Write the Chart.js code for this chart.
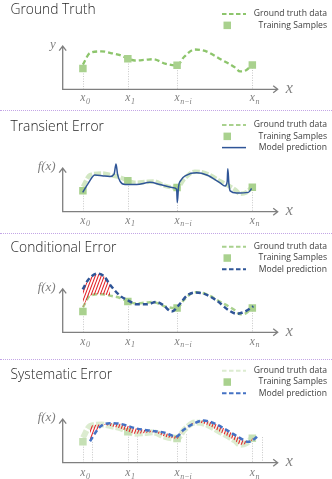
<!DOCTYPE html>
<html>
<head>
<meta charset="utf-8">
<title>Error types</title>
<script src="https://cdn.jsdelivr.net/npm/chart.js@4.4.1/dist/chart.umd.min.js"></script>
<style>
  html, body { margin: 0; padding: 0; background: #ffffff; }
  body { position: relative; width: 332px; height: 479px; overflow: hidden; }
  canvas { position: absolute; left: 0; }
  .sep { position: absolute; left: 0; width: 332px; height: 0; border-top: 1px dotted #c3a5e6; }
</style>
</head>
<body>
<canvas id="truthChart" width="332" height="111" style="top:0"></canvas>
<canvas id="transientChart" width="332" height="123" style="top:111px"></canvas>
<canvas id="conditionalChart" width="332" height="126" style="top:234px"></canvas>
<canvas id="systematicChart" width="332" height="119" style="top:360px"></canvas>
<div class="sep" style="top:110px"></div>
<div class="sep" style="top:233px"></div>
<div class="sep" style="top:359px"></div>
<script>
// Training samples (x axis runs 0..100)
const sampleX = [9.4, 30.3, 53.2, 88.2];
const sampleY = [22.1, 32.6, 25.6, 25.8];
const sampleBase = 'x';
const sampleSubs = ['0', '1', 'n\u2212i', 'n'];

// Ground truth curve
const truthX = [9.4, 12.7, 18.1, 22.9, 26.7, 30.3, 33.6, 38.3, 42.1, 47.6, 53.2, 56.4, 61.5, 66.2, 73.2, 80.1, 82.5, 85.3, 88.2];
const truthY = [26.3, 38.6, 40.3, 38.3, 36.3, 32.8, 30.6, 31.3, 32.0, 27.3, 25.3, 34.3, 42.3, 40.8, 32.3, 23.3, 19.0, 20.3, 26.3];

// Transient error: model follows truth with spikes
const transientX = [9.3, 11.8, 15.0, 18.9, 22.0, 23.9, 24.8, 25.5, 26.7, 29.0, 34.4, 40.6, 45.3, 51.4, 53.0, 53.3, 53.9, 54.6, 57.7, 62.3, 67.0, 73.2, 75.5, 76.5, 76.8, 77.3, 77.9, 80.9, 86.3, 87.9];
const transientY = [20.4, 29.7, 38.7, 37.7, 37.2, 39.7, 50.4, 39.7, 32.0, 28.7, 28.7, 31.0, 28.7, 25.4, 23.7, 9.7, 26.7, 32.0, 38.7, 41.0, 38.7, 30.4, 27.0, 31.7, 45.4, 29.7, 22.0, 19.7, 20.4, 24.4];

// Conditional error: model overshoots near x0
const conditionalX = [9.3, 11.8, 16.1, 19.2, 22.0, 26.7, 30.5, 34.4, 39.1, 43.7, 46.8, 50.7, 54.6, 57.7, 61.6, 65.4, 71.6, 77.0, 80.9, 84.8, 88.7];
const conditionalY = [45.3, 55.3, 62.0, 59.3, 50.3, 38.6, 33.6, 29.6, 29.6, 32.0, 28.6, 22.0, 30.3, 38.6, 42.0, 41.0, 33.6, 23.6, 19.6, 22.0, 27.6];
const conditionalErrX = conditionalX.slice(0, 5);
const conditionalErrY = conditionalY.slice(0, 5);

// Systematic error: model shifted along x
const systematicX = [12.7, 17.3, 22.0, 26.7, 34.4, 42.1, 46.8, 53.0, 56.1, 60.7, 65.4, 70.0, 76.3, 82.5, 86.3, 89.4, 91.3];
const systematicY = [22.7, 37.7, 41.7, 41.0, 36.0, 33.4, 32.0, 27.7, 34.4, 41.0, 44.4, 42.0, 34.4, 26.0, 22.0, 25.4, 30.0];
const shiftedX = [13.6, 34.7, 57.3, 92.6];
const shiftedY = [22, 33, 30, 27];

const axisLength = 100;
const axisHeight = 46;

const colors = {
    truth: '#8dc56c',
    truthLight: '#a9d18e',
    truthBand: '#d2e7c3',
    truthPale: '#dcecd0',
    sample: '#a9d18e',
    samplePale: '#c5e0b4',
    navy: '#2f5597',
    blue: '#4472c4',
    axis: '#7f7f7f',
    drop: '#c8c8c8',
    hatch: '#e3262b'
};

function hatchPattern() {
    const c = document.createElement('canvas');
    c.width = 3; c.height = 8;
    const g = c.getContext('2d');
    g.strokeStyle = colors.hatch;
    g.lineWidth = 1.1;
    g.beginPath();
    [-3, 0, 3].forEach(dx => { g.moveTo(dx, 8); g.lineTo(dx + 3, 0); });
    g.stroke();
    return g.createPattern(c, 'repeat');
}

function points(xs, ys) {
    return xs.map((x, i) => ({ x, y: ys[i] }));
}

function curve(xs, ys, style) {
    return Object.assign({
        data: points(xs, ys),
        pointRadius: 0,
        fill: false,
        cubicInterpolationMode: 'monotone',
        clip: 10
    }, style);
}

function samples(color) {
    return {
        data: points(sampleX, sampleY),
        showLine: false,
        pointStyle: 'rect',
        pointRadius: 5.3,
        pointBorderWidth: 0,
        pointBackgroundColor: color,
        borderColor: color,
        backgroundColor: color,
        fill: false,
        order: 2,
        clip: 10
    };
}

function drawSub(ctx, base, sub, cx, cy) {
    ctx.font = 'italic 11.5px "Liberation Serif"';
    const bw = ctx.measureText(base).width;
    const left = cx - bw / 2;
    ctx.textAlign = 'left';
    ctx.textBaseline = 'alphabetic';
    ctx.fillText(base, left, cy + 3);
    ctx.font = 'italic 8px "Liberation Serif"';
    ctx.fillText(sub, left + bw + 0.5, cy + 5.5);
}

const decorPlugin = {
    id: 'decor',
    beforeDatasetsDraw(chart, args, o) {
        const ctx = chart.ctx, xs = chart.scales.x, ys = chart.scales.y;
        const ox = xs.getPixelForValue(0), oy = ys.getPixelForValue(0);
        const ex = xs.getPixelForValue(axisLength), ty = ys.getPixelForValue(axisHeight);
        ctx.save();
        ctx.strokeStyle = colors.drop;
        ctx.lineWidth = 1;
        ctx.setLineDash([1, 1.5]);
        const drops = points(sampleX, sampleY).concat(o.extraDrops || []);
        drops.forEach(p => {
            const px = Math.round(xs.getPixelForValue(p.x)) + 0.5;
            ctx.beginPath();
            ctx.moveTo(px, ys.getPixelForValue(p.y));
            ctx.lineTo(px, oy);
            ctx.stroke();
        });
        ctx.setLineDash([]);
        ctx.strokeStyle = colors.axis;
        ctx.lineWidth = 1.3;
        ctx.beginPath();
        ctx.moveTo(ox, ty); ctx.lineTo(ox, oy); ctx.lineTo(ex, oy);
        ctx.moveTo(ox - 3.5, ty + 4.5); ctx.lineTo(ox, ty); ctx.lineTo(ox + 3.5, ty + 4.5);
        ctx.moveTo(ex - 4.5, oy - 3.5); ctx.lineTo(ex, oy); ctx.lineTo(ex - 4.5, oy + 3.5);
        ctx.stroke();
        ctx.restore();
    },
    afterDraw(chart, args, o) {
        const ctx = chart.ctx, xs = chart.scales.x, ys = chart.scales.y;
        const ox = xs.getPixelForValue(0), oy = ys.getPixelForValue(0);
        const ex = xs.getPixelForValue(axisLength), ty = ys.getPixelForValue(axisHeight);
        ctx.save();

        // title
        ctx.fillStyle = '#262626';
        ctx.font = '300 13.8px "Open Sans"';
        ctx.textAlign = 'left';
        ctx.textBaseline = 'alphabetic';
        ctx.fillText(o.title, 10.5, o.titleY);

        // legend
        o.legend.forEach((item, i) => {
            const y = o.legendY + i * 11.3;
            if (item.kind === 'square') {
                ctx.fillStyle = item.color;
                ctx.fillRect(223.5, y - 3.7, 7.5, 7.5);
            } else {
                ctx.strokeStyle = item.color;
                ctx.lineWidth = item.width;
                ctx.setLineDash(item.kind === 'dash' ? [4.5, 2.5] : []);
                ctx.beginPath();
                ctx.moveTo(222, y); ctx.lineTo(246, y);
                ctx.stroke();
                ctx.setLineDash([]);
            }
            ctx.fillStyle = '#404040';
            ctx.font = '8.6px "Open Sans"';
            ctx.textAlign = 'right';
            ctx.textBaseline = 'middle';
            ctx.fillText(item.text, 327, y);
        });

        // axis names
        ctx.fillStyle = colors.axis;
        ctx.font = 'italic 13px "Liberation Serif"';
        ctx.textAlign = 'right';
        ctx.textBaseline = 'middle';
        ctx.fillText(o.yName, ox - 7, ty - 1.5);
        ctx.font = 'italic 16px "Liberation Serif"';
        ctx.textAlign = 'left';
        ctx.fillText('x', ex + 8, oy - 1);

        // sample tick labels
        sampleX.forEach((x, i) => {
            drawSub(ctx, sampleBase, sampleSubs[i], xs.getPixelForValue(x), oy + o.tickGap);
        });
        ctx.restore();
    }
};

function buildPanel(canvasId, datasets, decor, axisY) {
    const canvas = document.getElementById(canvasId);
    return new Chart(canvas, {
        type: 'line',
        data: { datasets },
        options: {
            responsive: false,
            animation: false,
            events: [],
            layout: { padding: { left: 62.7, right: 54.3, top: 0, bottom: canvas.height - axisY } },
            scales: {
                x: { type: 'linear', display: false, min: 0, max: axisLength },
                y: { type: 'linear', display: false, min: 0, max: axisY }
            },
            plugins: {
                legend: { display: false },
                tooltip: { enabled: false },
                decor
            }
        },
        plugins: [decorPlugin]
    });
}

const pattern = hatchPattern();

buildPanel('truthChart', [
    curve(truthX, truthY, { borderColor: colors.truth, borderWidth: 2.3, borderDash: [5, 3], order: 3 }),
    samples(colors.sample)
], {
    title: 'Ground Truth', titleY: 13.5, yName: 'y', tickGap: 9,
    legendY: 14,
    legend: [
        { kind: 'dash', color: colors.truth, width: 2, text: 'Ground truth data' },
        { kind: 'square', color: colors.sample, text: 'Training Samples' }
    ]
}, 89.3);

buildPanel('transientChart', [
    curve(truthX, truthY, { borderColor: colors.truthBand, borderWidth: 4.5, borderDash: [7, 2], order: 3 }),
    samples(colors.sample),
    curve(transientX, transientY, { borderColor: colors.navy, borderWidth: 1.5, order: 0 })
], {
    title: 'Transient Error', titleY: 20, yName: 'f(x)', tickGap: 9,
    legendY: 14,
    legend: [
        { kind: 'dash', color: colors.truthLight, width: 2, text: 'Ground truth data' },
        { kind: 'square', color: colors.sample, text: 'Training Samples' },
        { kind: 'solid', color: colors.navy, width: 1.5, text: 'Model prediction' }
    ]
}, 100.7);

buildPanel('conditionalChart', [
    curve(truthX, truthY, { borderColor: colors.truthLight, borderWidth: 2.5, borderDash: [5, 3], order: 3 }),
    samples(colors.sample),
    curve(conditionalErrX, conditionalErrY, { borderColor: 'rgba(0,0,0,0)', borderWidth: 1, backgroundColor: pattern, fill: { target: 0 }, order: 1 }),
    curve(conditionalX, conditionalY, { borderColor: colors.navy, borderWidth: 2.5, borderDash: [5, 3], order: 0 })
], {
    title: 'Conditional Error', titleY: 17.7, yName: 'f(x)', tickGap: 9.5,
    legendY: 12.7,
    legend: [
        { kind: 'dash', color: colors.truthLight, width: 2, text: 'Ground truth data' },
        { kind: 'square', color: colors.sample, text: 'Training Samples' },
        { kind: 'dash', color: colors.navy, width: 2, text: 'Model prediction' }
    ]
}, 98.3);

buildPanel('systematicChart', [
    curve(truthX, truthY, { borderColor: colors.truthPale, borderWidth: 6, borderDash: [8, 2], order: 3 }),
    samples(colors.samplePale),
    curve(systematicX, systematicY, { borderColor: colors.blue, borderWidth: 2.5, borderDash: [5, 3], backgroundColor: pattern, fill: { target: 0 }, order: 0 })
], {
    title: 'Systematic Error', titleY: 19.3, yName: 'f(x)', tickGap: 10.5,
    legendY: 10.7,
    extraDrops: points(shiftedX, shiftedY),
    legend: [
        { kind: 'dash', color: colors.truthPale, width: 2, text: 'Ground truth data' },
        { kind: 'square', color: colors.sample, text: 'Training Samples' },
        { kind: 'dash', color: colors.blue, width: 2, text: 'Model prediction' }
    ]
}, 102.7);
</script>
</body>
</html>
